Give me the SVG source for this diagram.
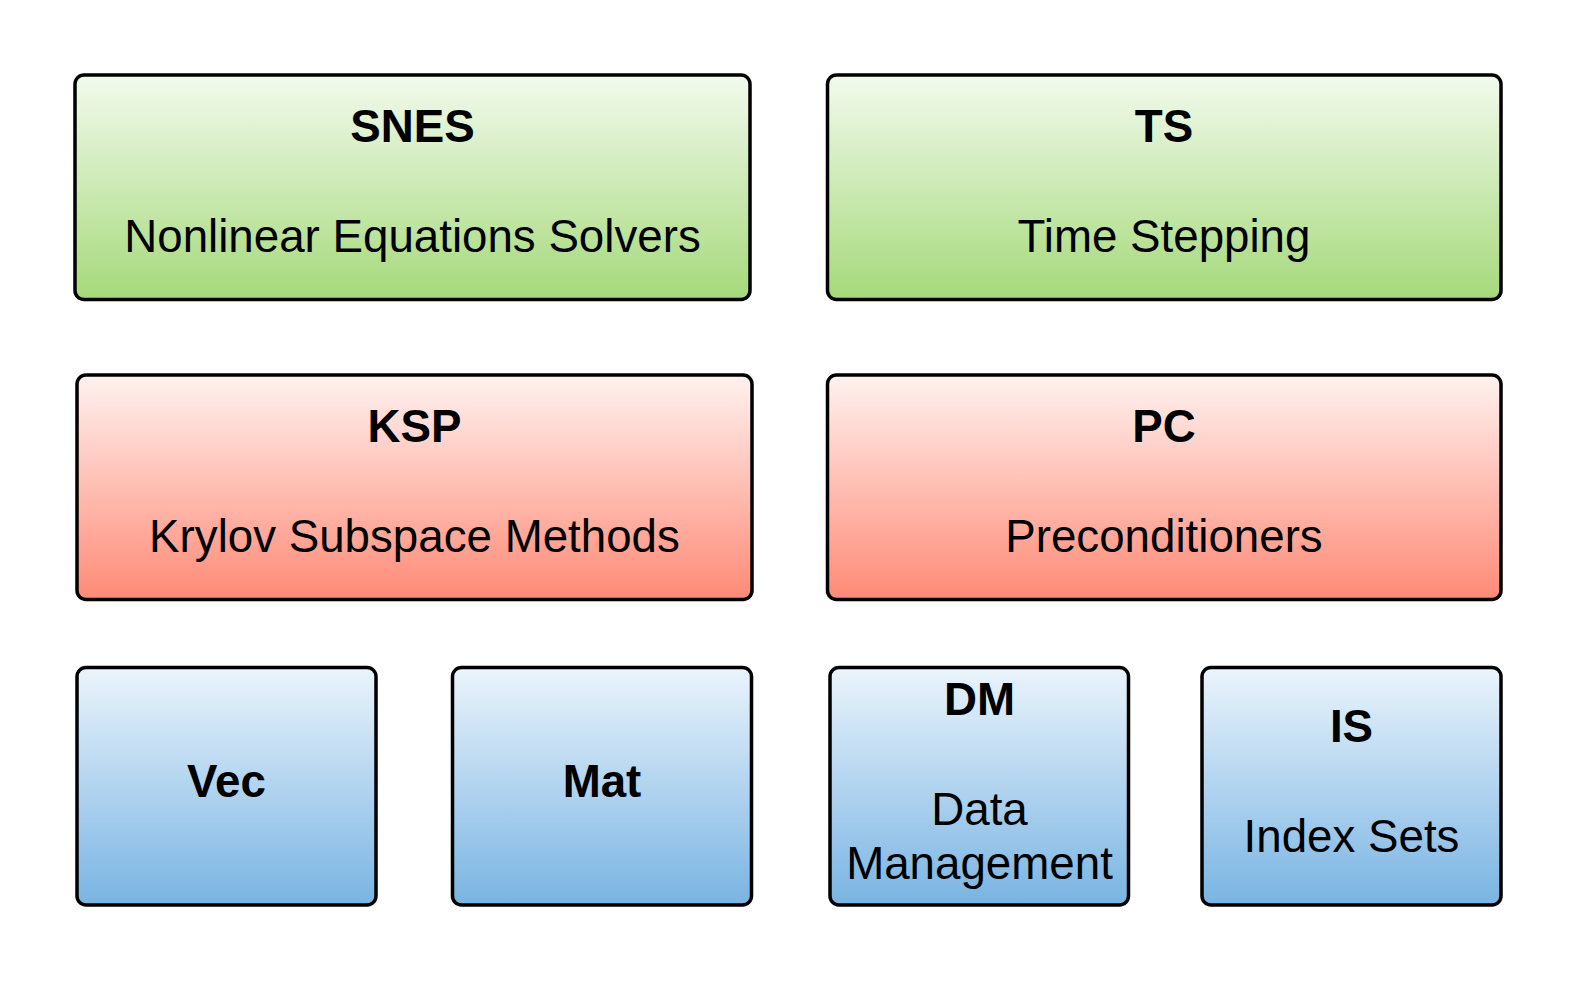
<svg xmlns="http://www.w3.org/2000/svg" width="1577" height="983" viewBox="0 0 1577 983">
<defs>
<linearGradient id="gGreen" x1="0" y1="0" x2="0" y2="1"><stop offset="0" stop-color="#f3faee"/><stop offset="1" stop-color="#a5d97a"/></linearGradient>
<linearGradient id="gRed" x1="0" y1="0" x2="0" y2="1"><stop offset="0" stop-color="#fff2f0"/><stop offset="1" stop-color="#ff8a76"/></linearGradient>
<linearGradient id="gBlue" x1="0" y1="0" x2="0" y2="1"><stop offset="0" stop-color="#ebf4fc"/><stop offset="1" stop-color="#79b4e2"/></linearGradient>
</defs>
<style>
.box{stroke:#000;stroke-width:3.5;}
.green{fill:url(#gGreen);}
.red{fill:url(#gRed);}
.blue{fill:url(#gBlue);}
text{font-family:"Liberation Sans",Arial,sans-serif;font-size:45.7px;fill:#000;text-anchor:middle;}
.b{font-weight:bold;}
</style>
<rect width="1577" height="983" fill="#fff"/>
<g id="SNES">
<rect class="box green" x="75" y="75" width="675" height="224.5" rx="9"/>
<text class="b" x="412.5" y="142">SNES</text>
<text x="412.5" y="252">Nonlinear Equations Solvers</text>
</g>
<g id="TS">
<rect class="box green" x="827.5" y="75" width="673.5" height="224.5" rx="9"/>
<text class="b" x="1164" y="142">TS</text>
<text x="1164" y="252">Time Stepping</text>
</g>
<g id="KSP">
<rect class="box red" x="77" y="375" width="675" height="224.5" rx="9"/>
<text class="b" x="414.5" y="441.5">KSP</text>
<text x="414.5" y="551.5">Krylov Subspace Methods</text>
</g>
<g id="PC">
<rect class="box red" x="827.5" y="375" width="673.5" height="224.5" rx="9"/>
<text class="b" x="1164" y="441.5">PC</text>
<text x="1164" y="551.5">Preconditioners</text>
</g>
<g id="Vec">
<rect class="box blue" x="77" y="667.5" width="299" height="237.5" rx="9"/>
<text class="b" x="226.5" y="797">Vec</text>
</g>
<g id="Mat">
<rect class="box blue" x="452.5" y="667.5" width="299" height="237.5" rx="9"/>
<text class="b" x="602" y="797">Mat</text>
</g>
<g id="DM">
<rect class="box blue" x="830" y="667.5" width="298.5" height="237.5" rx="9"/>
<text class="b" x="979.5" y="715">DM</text>
<text x="979.5" y="825">Data</text>
<text x="979.5" y="879">Management</text>
</g>
<g id="IS">
<rect class="box blue" x="1202" y="667.5" width="299" height="237.5" rx="9"/>
<text class="b" x="1351.5" y="742">IS</text>
<text x="1351.5" y="852">Index Sets</text>
</g>
<g id="connectors"></g>
</svg>
